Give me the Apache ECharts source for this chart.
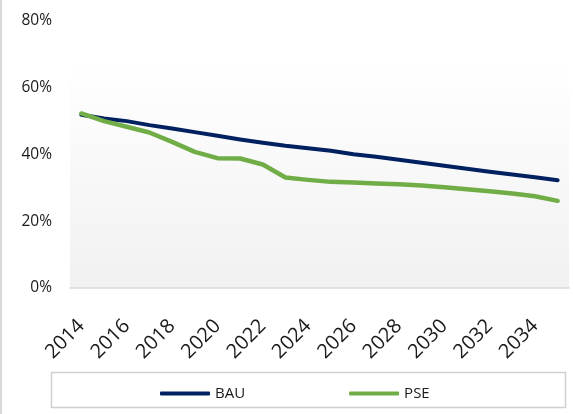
<!DOCTYPE html>
<html>
<head>
<meta charset="utf-8">
<script src="https://cdn.jsdelivr.net/npm/echarts@6/dist/echarts.min.js"></script>
<style>
  html, body { margin: 0; padding: 0; background: #fff; }
  #chart { width: 573px; height: 414px; }
</style>
</head>
<body>
<div id="chart"></div>
<script>
const years = ['2014', '2015', '2016', '2017', '2018', '2019', '2020', '2021', '2022', '2023', '2024',
  '2025', '2026', '2027', '2028', '2029', '2030', '2031', '2032', '2033', '2034', '2035']
const bau = [51.9, 50.8, 50.0, 48.8, 47.8, 46.7, 45.6, 44.5, 43.5, 42.6, 41.9,
  41.1, 40.1, 39.3, 38.4, 37.5, 36.6, 35.7, 34.8, 34.0, 33.2, 32.3]
const pse = [52.3, 50.0, 48.3, 46.6, 43.8, 40.8, 38.9, 38.8, 37.0, 33.1, 32.4,
  31.8, 31.6, 31.3, 31.1, 30.7, 30.2, 29.6, 29.0, 28.3, 27.5, 26.1]
const yTicks = [0, 20, 40, 60, 80]

const font = '"Open Sans", sans-serif'
const chart = echarts.init(document.getElementById('chart'))

chart.setOption({
  animation: false,
  textStyle: { fontFamily: font },
  grid: {
    left: 70, right: 4, top: 21, bottom: 126,
    show: true,
    borderWidth: 0,
    backgroundColor: new echarts.graphic.LinearGradient(0, 0, 0, 1, [
      { offset: 0, color: '#ffffff' },
      { offset: 0.15, color: '#ffffff' },
      { offset: 1, color: '#f1f1f1' }
    ])
  },
  xAxis: {
    type: 'category',
    data: years,
    boundaryGap: true,
    axisLine: { lineStyle: { color: '#d9d9d9', width: 1.5 } },
    axisTick: { show: false },
    axisLabel: {
      interval: 1,
      rotate: 45,
      margin: 35,
      color: '#1a1a1a',
      fontSize: 20,
      fontFamily: font
    }
  },
  yAxis: {
    type: 'value',
    min: yTicks[0],
    max: yTicks[yTicks.length - 1],
    interval: 20,
    splitLine: { show: false },
    axisLine: { show: false },
    axisTick: { show: false },
    axisLabel: {
      formatter: '{value}%',
      margin: 18,
      color: '#1a1a1a',
      fontSize: 15.5,
      fontFamily: font
    }
  },
  legend: {
    left: 155,
    top: 381,
    itemGap: 104,
    itemWidth: 50,
    itemHeight: 4,
    icon: 'roundRect',
    textStyle: { color: '#1a1a1a', fontSize: 15, fontFamily: font },
    data: ['BAU', 'PSE']
  },
  graphic: [
    {
      type: 'rect',
      shape: { x: 51.5, y: 372.5, width: 514, height: 35 },
      style: { fill: 'none', stroke: '#d0d0d0', lineWidth: 1.5 },
      silent: true
    },
    {
      type: 'line',
      shape: { x1: 1, y1: 0, x2: 1, y2: 414 },
      style: { stroke: '#d9d9d9', lineWidth: 2 },
      silent: true
    }
  ],
  series: [
    {
      name: 'BAU',
      type: 'line',
      data: bau,
      symbol: 'none',
      itemStyle: { color: '#002060' },
      lineStyle: { color: '#002060', width: 4, cap: 'round', join: 'round' }
    },
    {
      name: 'PSE',
      type: 'line',
      data: pse,
      symbol: 'none',
      itemStyle: { color: '#70ad47' },
      lineStyle: { color: '#70ad47', width: 4.5, cap: 'round', join: 'round' }
    }
  ]
})
</script>
</body>
</html>
